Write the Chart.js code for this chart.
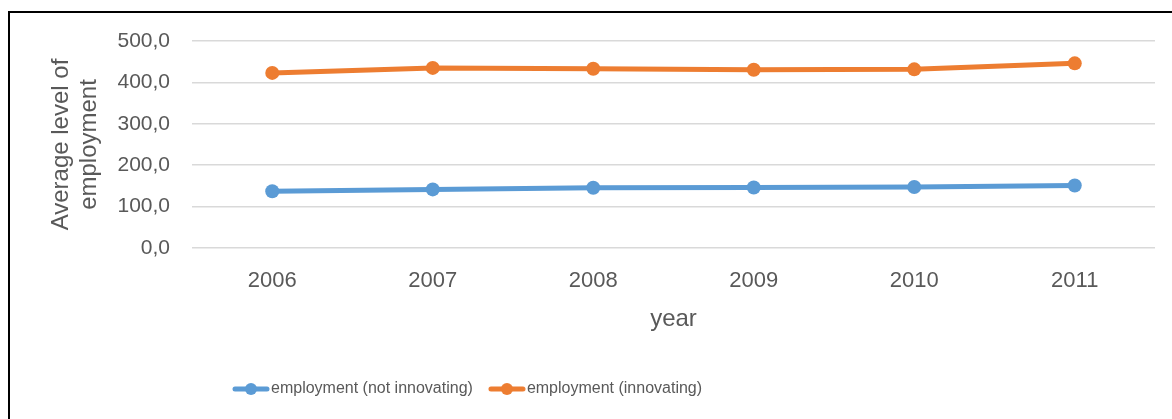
<!DOCTYPE html>
<html>
<head>
<meta charset="utf-8">
<script src="https://cdn.jsdelivr.net/npm/chart.js@4.4.1/dist/chart.umd.min.js"></script>
<style>
    html, body { margin: 0; padding: 0; background: #fff; overflow: hidden; }
    .wrap { position: relative; width: 1172px; height: 419px; }
    .frame { position: absolute; left: 8px; top: 11px; width: 1200px; height: 500px; border-top: 2px solid #000; border-left: 2px solid #000; }
    canvas { position: absolute; left: 0; top: 0; }
</style>
</head>
<body>
<div class="wrap">
    <div class="frame"></div>
    <canvas id="chart" width="1172" height="419"></canvas>
</div>
<script>
// data
const years = ['2006', '2007', '2008', '2009', '2010', '2011'];
const notInnovating = [137, 141.5, 145.5, 146, 147.5, 151];
const innovating = [423, 435, 433, 430.5, 431.5, 446];
const yTicks = [0, 100, 200, 300, 400, 500];

const BLUE = '#5B9BD5';
const ORANGE = '#ED7D31';
const TEXT = '#595959';

// line + dot marker for the legend
function legendMarker(color) {
    const c = document.createElement('canvas');
    c.width = 38;
    c.height = 14;
    const ctx = c.getContext('2d');
    ctx.strokeStyle = color;
    ctx.lineWidth = 5;
    ctx.lineCap = 'round';
    ctx.beginPath();
    ctx.moveTo(3, 7);
    ctx.lineTo(35, 7);
    ctx.stroke();
    ctx.fillStyle = color;
    ctx.beginPath();
    ctx.arc(19, 7, 6, 0, Math.PI * 2);
    ctx.fill();
    return c;
}

const markers = [legendMarker(BLUE), legendMarker(ORANGE)];

// the legend in the reference sits left of centre, start it at a fixed x
const legendStart = {
    id: 'legendStart',
    afterLayout(chart) {
        const lg = chart.legend;
        lg.left = 239 - lg.options.labels.padding;
    }
};

new Chart(document.getElementById('chart'), {
    type: 'line',
    data: {
        labels: years,
        datasets: [
            {
                label: 'employment (not innovating)',
                data: notInnovating,
                borderColor: BLUE,
                backgroundColor: BLUE,
                borderWidth: 5,
                pointRadius: 7,
                pointBorderWidth: 0,
                tension: 0
            },
            {
                label: 'employment (innovating)',
                data: innovating,
                borderColor: ORANGE,
                backgroundColor: ORANGE,
                borderWidth: 5,
                pointRadius: 7,
                pointBorderWidth: 0,
                tension: 0
            }
        ]
    },
    options: {
        responsive: false,
        animation: false,
        layout: { padding: { left: 40, top: 41, right: 17, bottom: 12 } },
        scales: {
            x: {
                offset: true,
                grid: { display: false },
                border: { display: false },
                ticks: { color: TEXT, padding: 12, font: { family: 'Liberation Sans', size: 22 } },
                title: {
                    display: true,
                    text: 'year',
                    color: TEXT,
                    padding: { top: 0, bottom: 25 },
                    font: { family: 'Liberation Sans', size: 24 }
                },
                afterFit: (scale) => { scale.height = 111; }
            },
            y: {
                min: 0,
                max: 500,
                afterBuildTicks: (scale) => { scale.ticks = yTicks.map(v => ({ value: v })); },
                grid: { color: '#D9D9D9', lineWidth: 1.5, drawTicks: false },
                border: { display: false },
                ticks: {
                    color: TEXT,
                    padding: 22,
                    font: { family: 'Liberation Sans', size: 21 },
                    callback: (v) => v.toFixed(1).replace('.', ',')
                },
                title: {
                    display: true,
                    text: ['Average level of', 'employment'],
                    color: TEXT,
                    padding: { top: 7, bottom: 0 },
                    font: { family: 'Liberation Sans', size: 24, lineHeight: '28px' }
                },
                afterFit: (scale) => { scale.width = 152; }
            }
        },
        plugins: {
            legend: {
                position: 'bottom',
                align: 'start',
                labels: {
                    color: TEXT,
                    usePointStyle: true,
                    pointStyleWidth: 24,
                    padding: 22,
                    font: { family: 'Liberation Sans', size: 16 },
                    generateLabels: (chart) => chart.data.datasets.map((ds, i) => ({
                        text: ds.label,
                        fillStyle: ds.borderColor,
                        strokeStyle: ds.borderColor,
                        fontColor: TEXT,
                        lineWidth: 0,
                        pointStyle: markers[i],
                        datasetIndex: i
                    }))
                }
            },
            tooltip: { enabled: false }
        }
    },
    plugins: [legendStart]
});
</script>
</body>
</html>
